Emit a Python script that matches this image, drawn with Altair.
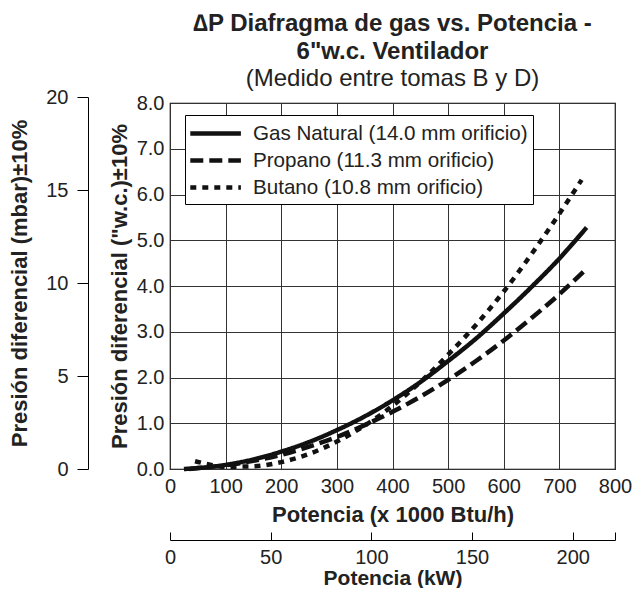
import altair as alt
import pandas as pd

FONT = "Liberation Sans"

names = ["Gas Natural (14.0 mm orificio)", "Propano (11.3 mm orificio)", "Butano (10.8 mm orificio)"]

gas_btu = [25, 50, 100, 150, 200, 250, 300, 350, 400, 450, 500, 550, 600, 650, 700, 749]
gas_wc = [0.0, 0.02, 0.09, 0.21, 0.38, 0.59, 0.85, 1.15, 1.5, 1.9, 2.36, 2.85, 3.4, 3.98, 4.6, 5.28]
prop_btu = [35, 50, 100, 150, 200, 250, 300, 350, 400, 450, 500, 550, 600, 650, 700, 749]
prop_wc = [0.0, 0.02, 0.08, 0.18, 0.31, 0.49, 0.7, 0.96, 1.25, 1.58, 1.95, 2.36, 2.81, 3.3, 3.82, 4.38]
but_btu = [45, 70, 100, 150, 200, 250, 300, 350, 400, 450, 500, 550, 600, 650, 700, 740]
but_wc = [0.17, 0.1, 0.05, 0.06, 0.15, 0.33, 0.6, 0.95, 1.38, 1.9, 2.5, 3.15, 3.88, 4.7, 5.58, 6.32]

btu_ticks = [0, 100, 200, 300, 400, 500, 600, 700, 800]
wc_ticks = [0, 1, 2, 3, 4, 5, 6, 7, 8]
mbar_ticks = [0, 5, 10, 15, 20]
kw_ticks = [0, 50, 100, 150, 200, 221]

rows = []
for name, xs, ys in zip(names, [gas_btu, prop_btu, but_btu], [gas_wc, prop_wc, but_wc]):
    for i, (x, y) in enumerate(zip(xs, ys)):
        rows.append({"gas": name, "btu": x, "wc": y, "idx": i})
df = pd.DataFrame(rows)

W, H = 445, 366
kw_df = pd.DataFrame({"kw": kw_ticks})

lines = alt.Chart(df).mark_line(strokeWidth=4.5, color="#111", strokeCap="butt",
                                interpolate="monotone").encode(
    x=alt.X("btu:Q", scale=alt.Scale(domain=[0, 800], nice=False),
            axis=alt.Axis(values=btu_ticks, title="Potencia (x 1000 Btu/h)", grid=True,
                          ticks=False, domain=False, labelPadding=7, titlePadding=8,
                          labelFlush=False)),
    y=alt.Y("wc:Q", scale=alt.Scale(domain=[0, 8], nice=False),
            axis=alt.Axis(values=wc_ticks, format=".1f", title='Presión diferencial ("w.c.)±10%',
                          grid=True, ticks=False, domain=False, labelPadding=6, titlePadding=5,
                          labelFlush=False)),
    strokeDash=alt.StrokeDash("gas:N", sort=names,
                              scale=alt.Scale(domain=names, range=[[1, 0], [13, 6], [6, 6]]),
                              legend=alt.Legend(title=None, orient="none", legendX=15, legendY=12,
                                                padding=5, strokeColor="black", fillColor="white",
                                                symbolType="M-1.2,0L3.4,0", symbolSize=484,
                                                symbolStrokeWidth=4.5, symbolStrokeColor="#111",
                                                symbolFillColor="transparent",
                                                labelFontSize=20.6, labelFont=FONT, labelColor="#222",
                                                labelOffset=36, rowPadding=2, labelLimit=400)),
    order="idx:Q",
)

mbar = alt.Chart(pd.DataFrame({"mbar": mbar_ticks})).mark_point(opacity=0).encode(
    y=alt.Y("mbar:Q", scale=alt.Scale(domain=[0, 20], nice=False, range=[H, -6]),
            axis=alt.Axis(orient="left", offset=82, values=mbar_ticks, grid=False,
                          title="Presión diferencial (mbar)±10%", tickSize=11,
                          labelPadding=9, titlePadding=14, labelFlush=False))
)

# kW axis: line + upward ticks
kw_ticks_layer = alt.Chart(kw_df).mark_point(opacity=0).encode(
    x=alt.X("kw:Q", scale=alt.Scale(domain=[0, 221], nice=False),
            axis=alt.Axis(orient="top", offset=-(H + 71), values=kw_ticks, grid=False,
                          labels=False, title=None, tickSize=8))
)
# kW axis: labels + title
kw_labels_layer = alt.Chart(kw_df).mark_point(opacity=0).encode(
    x=alt.X("kw:Q", scale=alt.Scale(domain=[0, 221], nice=False),
            axis=alt.Axis(orient="bottom", offset=71, values=kw_ticks, grid=False,
                          domain=False, ticks=False,
                          labelExpr="datum.value > 210 ? '' : datum.label",
                          title="Potencia (kW)", titleFontSize=21, labelPadding=7,
                          titlePadding=0, labelFlush=False))
)

chart = alt.layer(lines, mbar, kw_ticks_layer, kw_labels_layer).resolve_scale(
    x="independent", y="independent"
).properties(
    width=W, height=H,
    padding={"left": 0, "top": 3, "right": 0, "bottom": 0},
    title=alt.TitleParams(
        text=["∆P Diafragma de gas vs. Potencia -", '6"w.c. Ventilador'],
        subtitle="(Medido entre tomas B y D)",
        font=FONT, fontSize=24, fontWeight="bold", color="#222",
        subtitleFont=FONT, subtitleFontSize=24, subtitleColor="#222",
        anchor="middle", frame="group", lineHeight=28.5, subtitlePadding=3, offset=-4,
    ),
).configure_view(
    stroke="black", strokeWidth=1.2
).configure_axis(
    labelFont=FONT, labelFontSize=20, labelColor="#222",
    titleFont=FONT, titleFontSize=22, titleFontWeight="bold", titleColor="#222",
    domainColor="black", tickColor="black", gridColor="#333", gridWidth=1,
)

chart.save("out.html", embed_options={"renderer": "svg", "actions": False})
